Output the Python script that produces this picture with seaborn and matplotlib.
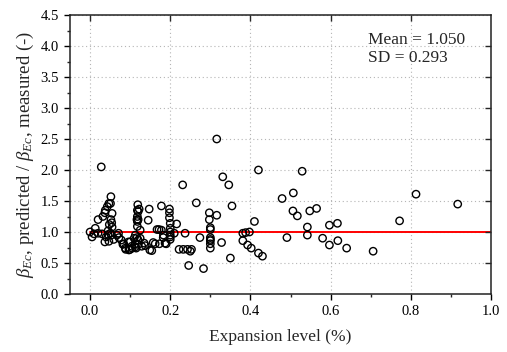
import numpy as np
import pandas as pd
import matplotlib
matplotlib.use("Agg")
import matplotlib.pyplot as plt
from matplotlib.ticker import MultipleLocator
import seaborn as sns

expansion = [0.000, 0.005, 0.010, 0.013, 0.020, 0.020, 0.028, 0.032, 0.037, 0.038,
             0.043, 0.047, 0.052, 0.051, 0.055, 0.052, 0.054, 0.055, 0.048, 0.045,
             0.051, 0.040, 0.037, 0.047, 0.053, 0.059, 0.045, 0.030, 0.067, 0.072,
             0.071, 0.078, 0.082, 0.084, 0.088, 0.089, 0.097, 0.100, 0.104, 0.105,
             0.096, 0.100, 0.110, 0.113, 0.113, 0.115, 0.1125, 0.117, 0.118, 0.118,
             0.117, 0.118, 0.120, 0.118, 0.1225, 0.119, 0.120, 0.125, 0.120, 0.120,
             0.125, 0.129, 0.135, 0.1375, 0.145, 0.1475, 0.149, 0.154, 0.1575, 0.1625,
             0.167, 0.172, 0.178, 0.173, 0.178, 0.1825, 0.187, 0.183, 0.190, 0.198,
             0.198, 0.198, 0.200, 0.200, 0.200, 0.200, 0.200, 0.200, 0.210, 0.216,
             0.222, 0.231, 0.2325, 0.237, 0.243, 0.246, 0.253, 0.250, 0.265, 0.274,
             0.283, 0.2975, 0.2975, 0.300, 0.300, 0.300, 0.300, 0.300, 0.300, 0.300,
             0.316, 0.316, 0.331, 0.328, 0.346, 0.350, 0.354, 0.381, 0.388, 0.3975,
             0.381, 0.393, 0.402, 0.410, 0.420, 0.420, 0.430, 0.479, 0.491, 0.507,
             0.506, 0.517, 0.529, 0.542, 0.542, 0.548, 0.565, 0.580, 0.597, 0.597,
             0.617, 0.618, 0.640, 0.706, 0.772, 0.813, 0.917]
ratio = [1.00, 0.92, 0.97, 1.06, 1.20, 0.98, 2.05, 1.25, 1.31, 1.35,
         1.41, 1.46, 1.57, 1.46, 1.30, 1.20, 1.15, 1.08, 1.12, 1.02,
         0.98, 0.92, 0.84, 0.85, 0.95, 0.88, 0.96, 0.97, 0.95, 0.91,
         0.98, 0.87, 0.80, 0.81, 0.74, 0.72, 0.71, 0.72, 0.77, 0.74,
         0.84, 0.84, 0.90, 0.76, 0.95, 0.74, 0.81, 0.91, 1.09, 1.17,
         1.20, 1.25, 1.33, 1.35, 1.37, 1.44, 1.20, 1.03, 0.87, 0.80,
         0.90, 0.77, 0.82, 0.78, 1.19, 1.37, 0.71, 0.70, 0.83, 0.81,
         1.04, 1.04, 1.03, 0.81, 1.42, 0.91, 0.82, 0.95, 0.81, 1.37,
         1.31, 1.23, 1.14, 1.06, 1.00, 0.95, 0.88, 0.92, 0.98, 1.13,
         0.72, 1.76, 0.72, 0.98, 0.72, 0.46, 0.72, 0.69, 1.47, 0.91,
         0.41, 1.31, 1.20, 1.07, 1.04, 0.91, 0.86, 0.81, 0.74, 0.88,
         2.50, 1.27, 1.89, 0.83, 1.76, 0.58, 1.42, 0.98, 0.99, 1.00,
         0.86, 0.79, 0.74, 1.17, 2.00, 0.66, 0.61, 1.54, 0.91, 1.63,
         1.34, 1.26, 1.98, 1.08, 0.95, 1.34, 1.38, 0.90, 1.11, 0.79,
         1.14, 0.86, 0.74, 0.69, 1.18, 1.61, 1.45]

stats_text = ["Mean = 1.050", "SD = 0.293"]
x_ticks = [0.0, 0.2, 0.4, 0.6, 0.8, 1.0]
y_ticks = [0.0, 0.5, 1.0, 1.5, 2.0, 2.5, 3.0, 3.5, 4.0, 4.5]

df = pd.DataFrame({"expansion": expansion, "ratio": ratio})

sns.set_style("ticks")
plt.rcParams["font.family"] = ["Liberation Serif", "DejaVu Serif"]
plt.rcParams["mathtext.fontset"] = "custom"
plt.rcParams["mathtext.rm"] = "Liberation Serif"
plt.rcParams["mathtext.it"] = "Liberation Serif:italic"
plt.rcParams["mathtext.bf"] = "Liberation Serif:bold"

fig = plt.figure(figsize=(5.07, 3.52), dpi=100)
ax = fig.add_axes([70 / 507, 58 / 352, 421 / 507, 279 / 352])

ax.plot([0, 1.0], [1.0, 1.0], color="red", linewidth=1.4, zorder=2)

sns.scatterplot(data=df, x="expansion", y="ratio", ax=ax, s=28,
                facecolor="none", edgecolor="black", linewidth=1.0, zorder=3)

ax.set_xlim(-0.05, 1.0)
ax.set_ylim(0.0, 4.5)
ax.set_xticks(x_ticks)
ax.set_yticks(y_ticks)
ax.set_xticklabels([f"{v:.1f}" for v in x_ticks])
ax.set_yticklabels([f"{v:.1f}" for v in y_ticks])
ax.xaxis.set_minor_locator(MultipleLocator(0.1))
ax.yaxis.set_minor_locator(MultipleLocator(0.25))

ax.grid(False, which="both")
ax.grid(True, which="major", axis="both", linestyle=(0, (1, 2.5)),
        color="#b5b5b5", linewidth=0.8)
ax.set_axisbelow(True)

ax.tick_params(axis="both", which="major", direction="out", length=4, width=1,
               labelsize=10.5, colors="black", pad=4, top=False, right=False)
ax.tick_params(axis="both", which="minor", direction="out", length=2.5, width=1,
               top=False, right=False)

# mirrored inward ticks on top and right
axt = ax.twiny()
axt.set_xlim(ax.get_xlim())
axt.set_xticks(x_ticks[:-1])
axt.tick_params(axis="x", direction="in", length=4, width=1, labeltop=False,
                top=True, bottom=False)
axt.xaxis.set_minor_locator(plt.NullLocator())
axr = ax.twinx()
axr.set_ylim(ax.get_ylim())
axr.set_yticks(y_ticks[1:-1])
axr.tick_params(axis="y", direction="in", length=4, width=1, labelright=False,
                right=True, left=False)
axr.yaxis.set_minor_locator(plt.NullLocator())
for a in (axt, axr):
    a.grid(False)
    for sp in a.spines.values():
        sp.set_visible(False)

for sp in ax.spines.values():
    sp.set_linewidth(1.1)
    sp.set_color("#222222")

ax.set_xlabel("Expansion level (%)", fontsize=12.5, labelpad=8)
ax.set_ylabel(r"$\beta_{Ec}$, predicted / $\beta_{Ec}$, measured (-)", fontsize=13.5, labelpad=3)

ax.text(0.6925, 4.1, stats_text[0], fontsize=12.5, va="center", ha="left")
ax.text(0.6925, 3.81, stats_text[1], fontsize=12.5, va="center", ha="left")

fig.savefig("out.png", dpi=100)
